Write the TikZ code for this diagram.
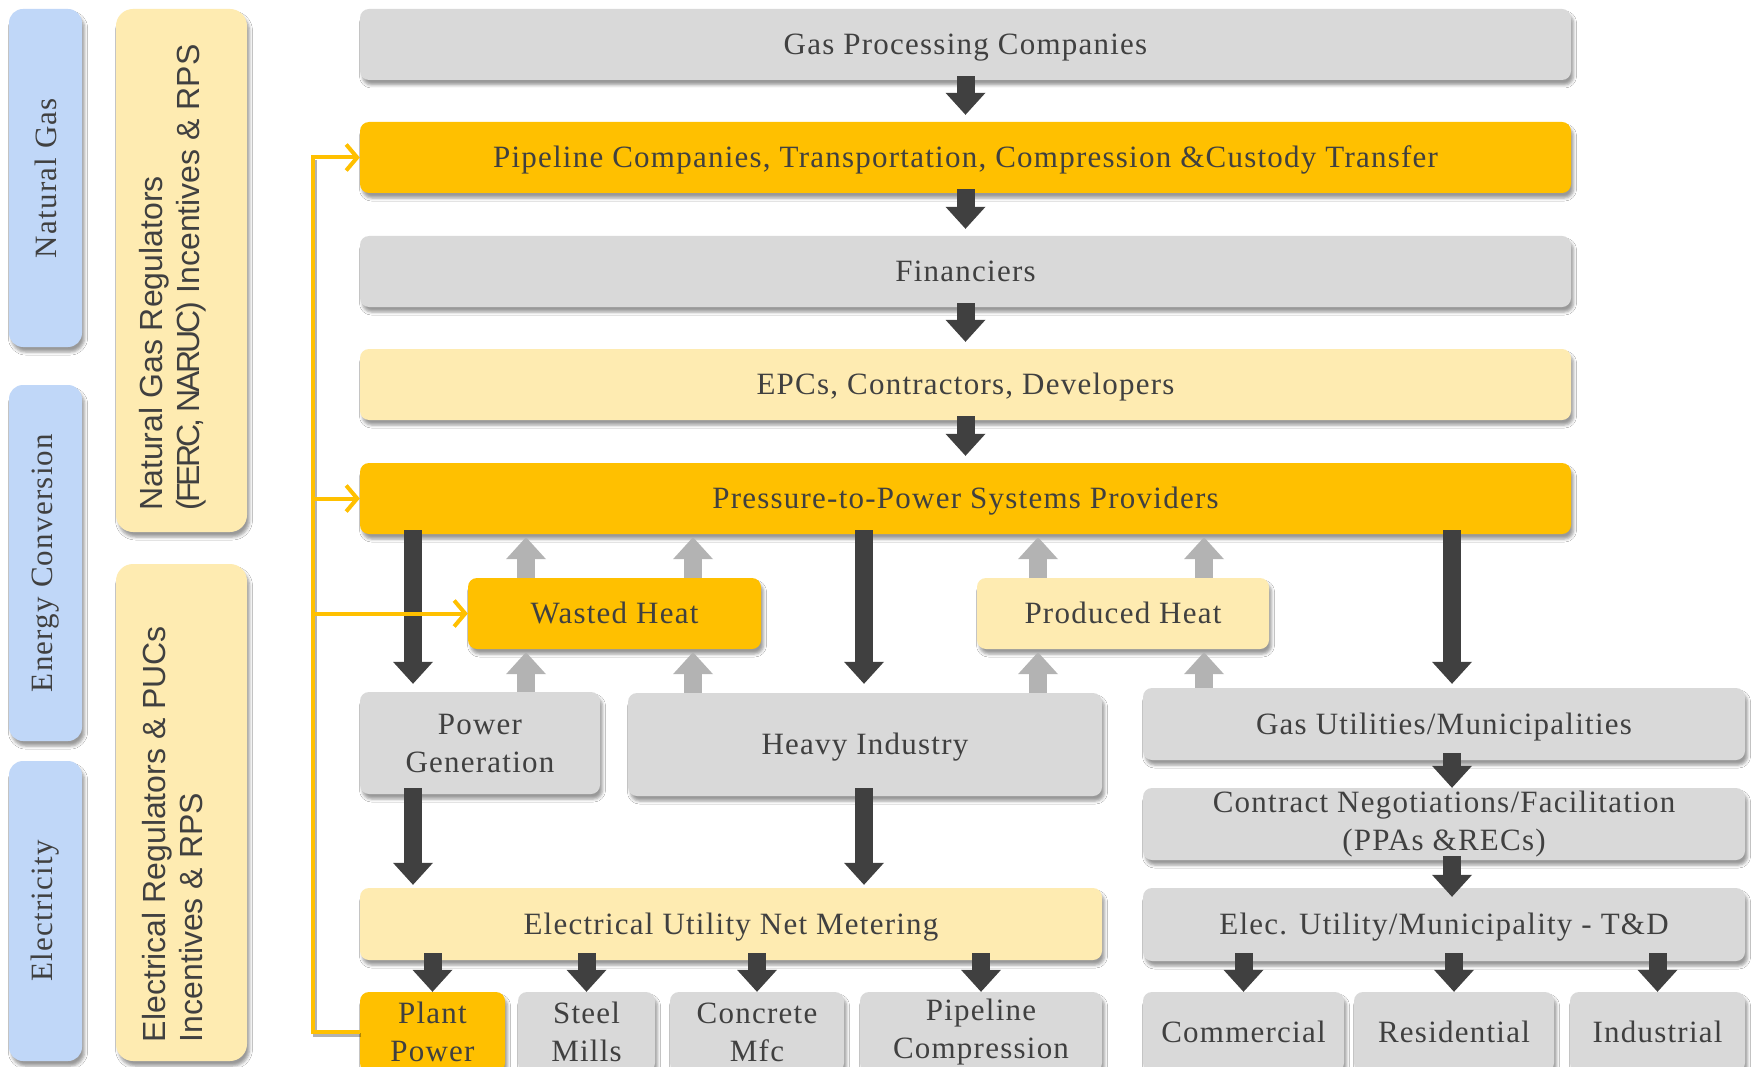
\documentclass[tikz,border=0pt]{standalone}
\usepackage{fontspec}
\setmainfont{Liberation Serif}[LetterSpace=4]
\newfontfamily\sidesans{Liberation Sans}
\newfontfamily\sidesanstight{Liberation Sans}[LetterSpace=-9]
\usetikzlibrary{arrows.meta,shadows.blur,calc}

\definecolor{txt}{HTML}{404040}
\definecolor{boxgray}{HTML}{D9D9D9}
\definecolor{gold}{HTML}{FFC000}
\definecolor{cream}{HTML}{FEEBB1}
\definecolor{skyb}{HTML}{C0D7F8}
\definecolor{darkarrow}{HTML}{404040}
\definecolor{lightarrow}{HTML}{B3B3B3}

\begin{document}
\begin{tikzpicture}[x=1pt,y=-1pt,
  base/.style={rounded corners=9pt, inner sep=0pt, text=txt, align=center,
    font=\fontsize{31}{38}\selectfont,
    blur shadow={shadow xshift=2.5pt, shadow yshift=-5pt, shadow blur radius=3pt, shadow opacity=40}},
  one/.style={text height=21pt, text depth=0.5pt},
  gbox/.style={base, fill=boxgray},
  obox/.style={base, fill=gold},
  ybox/.style={base, fill=cream},
  bbox/.style={base, fill=skyb, rounded corners=14pt},
  sidebox/.style={base, fill=cream, rounded corners=17pt},
  sidelbl/.style={rotate=90, text=txt, inner sep=0pt, font=\fontsize{31}{38}\selectfont},
  sanslbl/.style={rotate=90, text=txt, inner sep=0pt, align=left,
    font=\sidesans\fontsize{32}{37}\selectfont},
  darr/.style={draw=darkarrow, line width=18pt,
    -{Triangle[length=22pt,width=40pt,line width=0pt]}},
  garr/.style={draw=lightarrow, line width=18pt,
    -{Triangle[length=22pt,width=40pt,line width=0pt]}},
  oline/.style={draw=gold, line width=4pt,
    -{Straight Barb[length=11pt,width=26pt,line width=4pt]}},
  oshade/.style={draw=black, opacity=0.3, line width=4pt,
    transform canvas={xshift=1.5pt,yshift=-3pt}}
]
\fill[white] (0,0) rectangle (1752,1067);
\useasboundingbox (0,0) rectangle (1752,1067);

% left-hand category bars
\node[bbox, minimum width=73pt, minimum height=338pt] (ng) at (45.5,178) {};
\node[bbox, minimum width=73pt, minimum height=356pt] (ec) at (45.5,563) {};
\node[bbox, minimum width=73pt, minimum height=300pt] (el) at (45.5,911) {};
\node[sidelbl] (ngl) at (ng.center) {Natural Gas};
\node[sidelbl] (ecl) at (ec.center) {Energy Conversion};
\node[sidelbl] (ell) at (el.center) {Electricity};

% regulator bars
\node[sidebox, minimum width=131pt, minimum height=523pt] (ngr) at (181.5,270.5) {};
\node[sidebox, minimum width=131pt, minimum height=497pt] (elr) at (181.5,812.5) {};
\node[sanslbl] (ngrl) at (173,277.5) {Natural Gas Regulators\\{\sidesanstight(FERC, NARUC)} Incentives \& RPS};
\node[sanslbl] (elrl) at (173,834) {Electrical Regulators \& PUCs\\Incentives \& RPS};

% main supply chain
\node[gbox, one, minimum width=1211pt, minimum height=71pt] (gp) at (965.5,44.5) {Gas Processing Companies};
\node[obox, one, minimum width=1211pt, minimum height=71pt] (pl) at (965.5,157.5) {Pipeline Companies, Transportation, Compression \&Custody Transfer};
\node[gbox, one, minimum width=1211pt, minimum height=71pt] (fi) at (965.5,271.5) {Financiers};
\node[ybox, one, minimum width=1211pt, minimum height=71pt] (epc) at (965.5,384.5) {EPCs, Contractors, Developers};
\node[obox, one, minimum width=1211pt, minimum height=71pt] (p2p) at (965.5,498.5) {Pressure-to-Power Systems Providers};

% heat
\node[obox, one, minimum width=293pt, minimum height=71pt] (wh) at (614.5,613.5) {Wasted Heat};
\node[ybox, one, minimum width=292pt, minimum height=71pt] (ph) at (1123,613.5) {Produced Heat};

% users
\node[gbox, minimum width=240pt, minimum height=102pt] (pg) at (480,743) {Power\\Generation};
\node[gbox, one, minimum width=474pt, minimum height=103pt] (hi) at (865,744.5) {Heavy Industry};
\node[gbox, one, minimum width=602pt, minimum height=72pt] (gu) at (1444,724) {Gas Utilities/Municipalities};
\node[gbox, minimum width=602pt, minimum height=72pt] (cn) at (1444,824) {Contract Negotiations/Facilitation\\(PPAs \&RECs)};
\node[gbox, one, minimum width=602pt, minimum height=73pt] (eu) at (1444,924.5) {Elec. Utility/Municipality - T\&D};
\node[ybox, one, minimum width=742pt, minimum height=72pt] (nm) at (731,924) {Electrical Utility Net Metering};

% end consumers
\begin{scope}[every node/.append style={font=\fontsize{31}{35}\selectfont, minimum height=80pt}]
\node[obox, minimum width=145pt] (pp) at (432.5,1032) {Plant\\Power};
\node[gbox, minimum width=137pt] (sm) at (586.5,1032) {Steel\\Mills};
\node[gbox, minimum width=174pt] (cm) at (757,1032) {Concrete\\Mfc};
\node[gbox, minimum width=242pt] (pc) at (981,1032) {Pipeline\\Compression};
\node[gbox, one, minimum width=201pt] (co) at (1243.5,1032) {Commercial};
\node[gbox, one, minimum width=200pt] (re) at (1454,1032) {Residential};
\node[gbox, one, minimum width=175pt] (in) at (1657.5,1032) {Industrial};
\end{scope}

% arrow columns
\coordinate (cA) at (413,0);
\coordinate (cB) at (864,0);
\coordinate (cC) at (1452,0);
\coordinate (gA) at (526,0);
\coordinate (gB) at (693,0);
\coordinate (gC) at (1038,0);
\coordinate (gD) at (1204,0);
\coordinate (trunk) at (313,0);

% main chain flow
\draw[darr] ($(gp.south)+(0,-4)$) -- ($(pl.north)+(0,-7)$);
\draw[darr] ($(pl.south)+(0,-4)$) -- ($(fi.north)+(0,-7)$);
\draw[darr] ($(fi.south)+(0,-4)$) -- ($(epc.north)+(0,-7)$);
\draw[darr] ($(epc.south)+(0,-4)$) -- ($(p2p.north)+(0,-7)$);

\draw[darr] ($(cA|-p2p.south)+(0,-4)$) -- ($(cA|-pg.north)+(0,-8)$);
\draw[darr] ($(cB|-p2p.south)+(0,-4)$) -- ($(cB|-hi.north)+(0,-9)$);
\draw[darr] ($(cC|-p2p.south)+(0,-4)$) -- ($(cC|-gu.north)+(0,-4)$);

\draw[darr] ($(cA|-pg.south)+(0,-6)$) -- ($(cA|-nm.north)+(0,-3)$);
\draw[darr] ($(cB|-hi.south)+(0,-8)$) -- ($(cB|-nm.north)+(0,-3)$);

\draw[darr] ($(cC|-gu.south)+(0,-7)$) -- (cC|-cn.north);
\draw[darr] ($(cC|-cn.south)+(0,-4)$) -- ($(cC|-eu.north)+(0,9)$);

\foreach \t in {pp,sm,cm,pc}
  \draw[darr] ($(nm.south -| \t.north)+(0,-7)$) -- (\t.north);
\foreach \t in {co,re,in}
  \draw[darr] ($(eu.south -| \t.north)+(0,-8)$) -- (\t.north);

% heat recovery flow
\draw[garr] (gA|-pg.north) -- ($(gA|-wh.south)+(0,3)$);
\draw[garr] (gB|-hi.north) -- ($(gB|-wh.south)+(0,3)$);
\draw[garr] (gA|-wh.north) -- ($(gA|-p2p.south)+(0,3)$);
\draw[garr] (gB|-wh.north) -- ($(gB|-p2p.south)+(0,3)$);
\draw[garr] (gC|-hi.north) -- ($(gC|-ph.south)+(0,3)$);
\draw[garr] (gD|-gu.north) -- ($(gD|-ph.south)+(0,3)$);
\draw[garr] (gC|-ph.north) -- ($(gC|-p2p.south)+(0,3)$);
\draw[garr] (gD|-ph.north) -- ($(gD|-p2p.south)+(0,3)$);

% plant power feedback loop
\draw[oshade] (pp.west) -| (trunk|-pl.west);
\draw[oline] (pp.west) -| (trunk|-pl.west) -- (pl.west);
\draw[oline] (trunk|-p2p.west) -- (p2p.west);
\draw[oline] (trunk|-wh.west) -- (wh.west);
\end{tikzpicture}
\end{document}
